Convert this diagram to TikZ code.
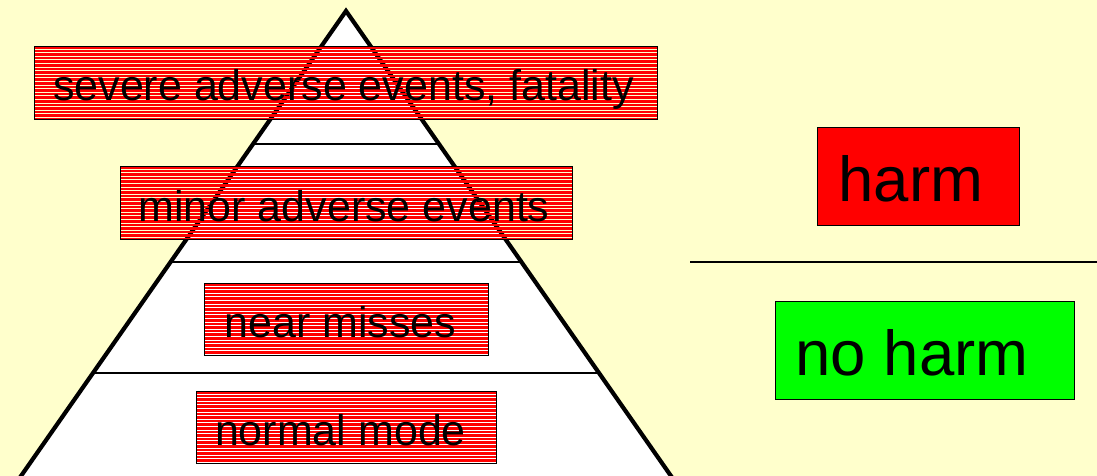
\documentclass[tikz,border=0pt]{standalone}
\usepackage{fontspec}
\setmainfont{Liberation Sans}
\usetikzlibrary{calc}
\definecolor{paper}{RGB}{255,255,204}
\definecolor{harmred}{RGB}{255,0,0}
\definecolor{safegreen}{RGB}{0,255,0}
\begin{document}
\begin{tikzpicture}[x=1pt,y=-1pt,
  % red boxes made of red bands with thin see-through gaps
  stripebox/.style={draw=black, line width=0.8pt, inner sep=0pt,
    font=\fontsize{43}{50}\selectfont, text height=37pt, text depth=0pt,
    path picture={
      \foreach \k in {0,...,24}{
        \fill[harmred]
          ([yshift={-\k*3.6pt}]path picture bounding box.north west)
          rectangle
          ([yshift={-\k*3.6pt-2.6pt}]path picture bounding box.north east);
      }
    }},
  plainbox/.style={draw=black, line width=0.8pt, inner sep=0pt,
    font=\fontsize{63.5}{70}\selectfont, text height=50pt, text depth=0pt},
  tier/.style={line width=1.4pt},
  rim/.style={line width=4.2pt, line join=miter, miter limit=10}]

  % page
  \fill[paper] (0,0) rectangle (1097,476);
  \clip (0,0) rectangle (1097,476);

  % pyramid corners
  \coordinate (apex) at (346,11);
  \coordinate (bl) at (21,476);
  \coordinate (br) at (671,476);
  \coordinate (blx) at ($(apex)!1.1!(bl)$);
  \coordinate (brx) at ($(apex)!1.1!(br)$);

  \fill[white] (apex) -- (blx) -- (brx) -- cycle;

  % tier boundaries
  \coordinate (t1l) at ($(apex)!0.286!(bl)$);
  \coordinate (t1r) at ($(apex)!0.286!(br)$);
  \coordinate (t2l) at ($(apex)!0.540!(bl)$);
  \coordinate (t2r) at ($(apex)!0.540!(br)$);
  \coordinate (t3l) at ($(apex)!0.7785!(bl)$);
  \coordinate (t3r) at ($(apex)!0.7785!(br)$);
  \draw[tier] (t1l) -- (t1r);
  \draw[tier] (t2l) -- (t2r);
  \draw[tier] (t3l) -- (t3r);

  \draw[rim] (blx) -- (apex) -- (brx);

  % tier labels
  \node[stripebox, minimum width=623pt, minimum height=73pt] (severe) at (345.5,82.5)
    {severe adverse events, fatality\kern4pt};
  \node[stripebox, minimum width=452pt, minimum height=73pt] (minor) at (346,202.5)
    {minor adverse events\kern4pt};
  \node[stripebox, minimum width=284pt, minimum height=72pt] (near) at (346,319)
    {near misses\kern11pt};
  \node[stripebox, minimum width=300pt, minimum height=72pt] (normal) at (346,427)
    {normal mode\kern11pt};

  % legend
  \node[plainbox, fill=harmred, minimum width=202pt, minimum height=98pt] (harm) at (918,176)
    {harm\kern14pt};
  \coordinate (divl) at (690,262);
  \coordinate (divr) at (1097,262);
  \draw[tier] (divl) -- (divr);
  \node[plainbox, fill=safegreen, minimum width=299pt, minimum height=98pt] (noharm) at (924.5,350)
    {no harm\kern25pt};
\end{tikzpicture}
\end{document}
